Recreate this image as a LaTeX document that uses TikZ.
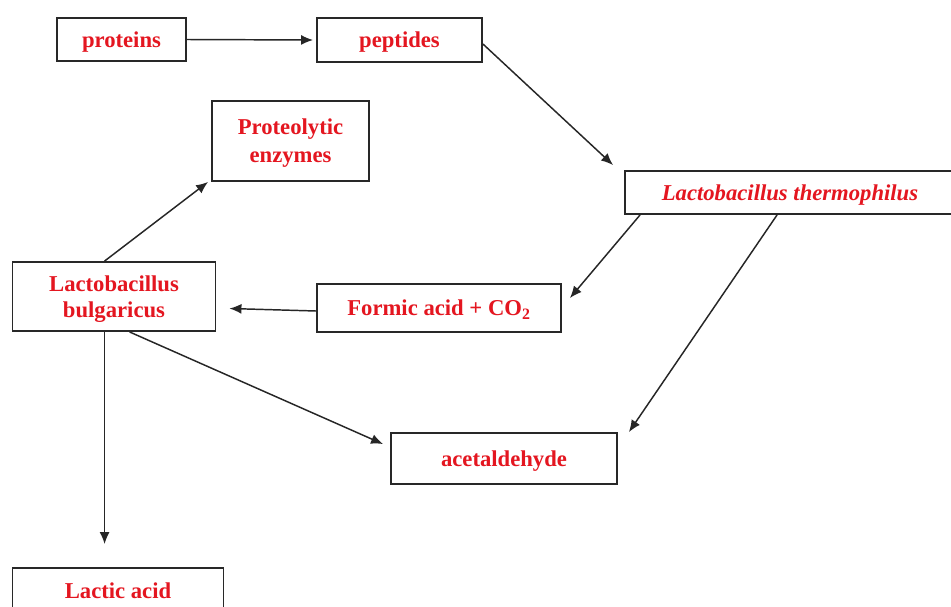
\documentclass[tikz,border=0pt]{standalone}
\usepackage{fontspec}
\setmainfont{Liberation Serif}
\usetikzlibrary{arrows.meta,calc}
\definecolor{txtred}{RGB}{228,22,32}
\definecolor{boxgray}{RGB}{40,40,40}
\begin{document}
\begin{tikzpicture}[x=0.75pt,y=-0.75pt,
  box/.style={draw=boxgray,line width=1.4pt,fill=white,inner sep=0pt,text depth=0pt,
    text=txtred,font=\fontsize{17}{21}\selectfont\bfseries,align=center},
  conn/.style={draw=black!85,line width=1.1pt,-{Latex[length=9pt,width=7.5pt]}}]
\useasboundingbox[fill=white] (0,0) rectangle (951,607);
\node[box,minimum width=129*0.75pt,minimum height=43*0.75pt] (proteins) at (121.5,39.5) {proteins};
\node[box,minimum width=165*0.75pt,minimum height=44*0.75pt] (peptides) at (399.5,40) {peptides};
\node[box,minimum width=157*0.75pt,minimum height=80*0.75pt] (proteo) at (290.5,141) {Proteolytic\\enzymes};
\node[box,minimum width=330*0.75pt,minimum height=43*0.75pt] (thermo) at (790,192.5) {\itshape Lactobacillus thermophilus};
\node[box,minimum width=203*0.75pt,minimum height=69*0.75pt,font=\fontsize{17}{20}\selectfont\bfseries] (bulg) at (114,296.5) {Lactobacillus\\bulgaricus};
\node[box,minimum width=244*0.75pt,minimum height=48*0.75pt] (formic) at (439,308) {Formic acid + CO\textsubscript{2}};
\node[box,minimum width=226*0.75pt,minimum height=51*0.75pt] (acet) at (504,458.5) {acetaldehyde};
\node[box,minimum width=211*0.75pt,minimum height=46*0.75pt] (lactic) at (118,591) {Lactic acid};

\draw[conn] (proteins.east) -- ($(peptides.west)+(-3,0)$);
\draw[conn] ($(peptides.east)+(0,4)$) -- ($(thermo.north west)+(-11,-5)$);
\draw[conn] ($(thermo.south west)+(16,0)$) -- ($(formic.north east)+(8,15)$);
\draw[conn] ($(thermo.south west)+(153,0)$) -- ($(acet.north east)+(11,0)$);
\draw[conn] ($(formic.west)+(0,3)$) -- ($(bulg.east)+(13,12)$);
\draw[conn] ($(bulg.north west)+(93,0)$) -- ($(proteo.south west)+(-3,0)$);
\draw[conn] ($(bulg.south west)+(118,0)$) -- ($(acet.north west)+(-7,12)$);
\draw[conn] ($(bulg.south west)+(93,0)$) -- ($(lactic.north west)+(93,-23)$);
\end{tikzpicture}
\end{document}
